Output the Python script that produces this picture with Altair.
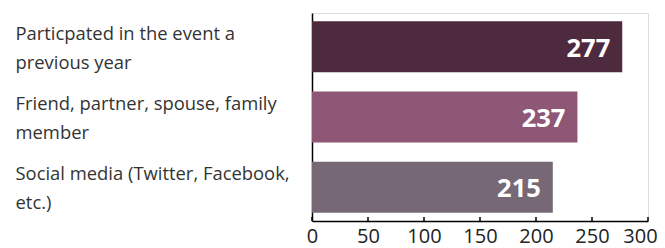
import altair as alt
import pandas as pd

categories = [
    "Particpated in the event a|previous year",
    "Friend, partner, spouse, family|member",
    "Social media (Twitter, Facebook,|etc.)",
]
values = [277, 237, 215]
colors = ["#4D2A3E", "#8E5775", "#766874"]
x_ticks = [0, 50, 100, 150, 200, 250, 300]

df = pd.DataFrame({"category": categories, "value": values})
ticks_df = pd.DataFrame({"t": x_ticks})

W, H = 336, 208
FONT = "Open Sans"

y_enc = alt.Y(
    "category:N",
    sort=categories,
    scale=alt.Scale(paddingInner=0.28, paddingOuter=0.12),
    axis=alt.Axis(
        title=None,
        ticks=False,
        tickSize=0,
        labelAlign="left",
        labelBaseline="middle",
        labelPadding=297,
        labelOffset=-13,
        labelExpr="split(datum.label, '|')",
        labelFont=FONT,
        labelFontSize=18.4,
        labelLineHeight=29,
        labelColor="#333333",
        labelLimit=400,
        domainColor="#000000",
        domainWidth=1.5,
    ),
)
x_scale = alt.Scale(domain=[0, 300], nice=False)

bars = alt.Chart(df).mark_bar(size=51).encode(
    x=alt.X(
        "value:Q",
        scale=x_scale,
        axis=alt.Axis(
            title=None,
            values=x_ticks,
            ticks=False,
            tickSize=0,
            grid=False,
            labelPadding=5,
            labelOffset={"condition": {"test": "datum.value == 300", "value": -8}, "value": 0},
            labelFont=FONT,
            labelFontSize=20,
            labelColor="#222222",
            labelFlush=False,
            domainColor="#000000",
            domainWidth=1.5,
        ),
    ),
    y=y_enc,
    color=alt.Color(
        "category:N",
        scale=alt.Scale(domain=categories, range=colors),
        legend=None,
    ),
)

labels = alt.Chart(df).mark_text(
    align="right",
    baseline="middle",
    dx=-12,
    dy=2,
    font=FONT,
    fontSize=25.5,
    fontWeight="bold",
    color="white",
).encode(
    x=alt.X("value:Q", scale=x_scale),
    y=alt.Y("category:N", sort=categories),
    text=alt.Text("value:Q"),
)

tick_marks = alt.Chart(ticks_df).mark_rule(color="#000000", strokeWidth=1.5).encode(
    x=alt.X("t:Q", scale=x_scale),
    y=alt.value(H),
    y2=alt.value(H - 4),
)

chart = (
    alt.layer(bars, labels, tick_marks)
    .properties(
        width=W,
        height=H,
        padding={"left": 304, "top": 5, "right": 9, "bottom": 27},
        autosize="none",
    )
    .configure_view(stroke=None)
    .configure(background="white")
)

chart.save("out.html", embed_options={"renderer": "svg", "actions": False})
